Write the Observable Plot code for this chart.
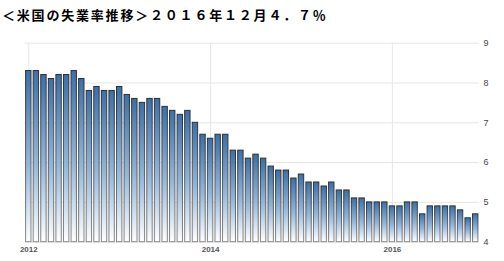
<!DOCTYPE html>
<html>
<head>
<meta charset="utf-8">
<script src="https://cdn.jsdelivr.net/npm/d3@7"></script>
<script src="https://cdn.jsdelivr.net/npm/@observablehq/plot@0.6"></script>
<style>
  html, body { margin: 0; padding: 0; background: #fff; }
  #wrap { position: relative; width: 504px; height: 261px; overflow: hidden; }
  #title { position: absolute; left: 2px; top: 8px; font-family: "Noto Sans CJK JP", sans-serif; font-weight: bold; font-size: 13px; line-height: 14px; letter-spacing: 1.8px; color: #000; white-space: nowrap; }
  #chart { position: absolute; left: 0; top: 30px; }
</style>
</head>
<body>
<div id="wrap">
  <div id="title">＜米国の失業率推移＞２０１６年１２月４．７％</div>
  <div id="chart"></div>
</div>
<svg width="0" height="0" style="position:absolute">
  <defs>
    <linearGradient id="barFill" x1="0" y1="0" x2="0" y2="1">
      <stop offset="0" stop-color="#3b70a8"/>
      <stop offset="0.55" stop-color="#94b8dc"/>
      <stop offset="1" stop-color="#ffffff"/>
    </linearGradient>
    <linearGradient id="barStroke" x1="0" y1="0" x2="0" y2="1">
      <stop offset="0" stop-color="#2a2f36"/>
      <stop offset="1" stop-color="#8a8a8a"/>
    </linearGradient>
  </defs>
</svg>
<script>
// US unemployment rate (%), monthly, Jan 2012 – Dec 2016
const startYear = 2012;
const rates2012 = [8.3, 8.3, 8.2, 8.1, 8.2, 8.2, 8.3, 8.1, 7.8, 7.9, 7.8, 7.8];
const rates2013 = [7.9, 7.7, 7.6, 7.5, 7.6, 7.6, 7.4, 7.3, 7.2, 7.3, 7.0, 6.7];
const rates2014 = [6.6, 6.7, 6.7, 6.3, 6.3, 6.1, 6.2, 6.1, 5.9, 5.8, 5.8, 5.6];
const rates2015 = [5.7, 5.5, 5.5, 5.4, 5.5, 5.3, 5.3, 5.1, 5.1, 5.0, 5.0, 5.0];
const rates2016 = [4.9, 4.9, 5.0, 5.0, 4.7, 4.9, 4.9, 4.9, 4.9, 4.8, 4.6, 4.7];
const yTicks = [4, 5, 6, 7, 8, 9];
const xTickLabels = ["2012", "2014", "2016"];

const allRates = [rates2012, rates2013, rates2014, rates2015, rates2016].flat();
const data = allRates.map((v, i) => ({i, v}));
const xTickIdx = xTickLabels.map(l => (+l - startYear) * 12);

const chart = Plot.plot({
  width: 504,
  height: 231,
  marginLeft: 24.5,
  marginRight: 25,
  marginTop: 12.7,
  marginBottom: 19.3,
  style: {background: "transparent", overflow: "visible"},
  x: {domain: [-0.5, data.length - 0.5], ticks: xTickIdx, tickFormat: i => xTickLabels[xTickIdx.indexOf(i)], tickSize: 0, tickPadding: 4, label: null},
  y: {domain: [4, 9], ticks: yTicks, tickFormat: d => String(d), tickSize: 0, tickPadding: 4, axis: "right", label: null},
  marks: [
    Plot.ruleY(yTicks, {stroke: "#e6e6e6", strokeWidth: 1}),
    Plot.ruleX(xTickIdx, {y1: 4, y2: 9, stroke: "#e6e6e6", strokeWidth: 1}),
    Plot.rect(data, {
      x1: d => d.i - 0.5, x2: d => d.i + 0.5, y1: 4, y2: "v",
      insetLeft: 1.1, insetRight: 1.1,
      fill: "url(#barFill)", stroke: "url(#barStroke)", strokeWidth: 1
    })
  ]
});
chart.querySelectorAll('[aria-label="y-axis tick label"]').forEach(el => {
  el.setAttribute("font-size", "9");
  el.setAttribute("fill", "#444");
});
chart.querySelectorAll('[aria-label="x-axis tick label"]').forEach(el => {
  el.setAttribute("font-size", "8");
  el.setAttribute("font-weight", "bold");
  el.setAttribute("fill", "#555");
});
chart.setAttribute("font-family", "'Liberation Sans', Arial, sans-serif");
document.getElementById("chart").appendChild(chart);
</script>
</body>
</html>
